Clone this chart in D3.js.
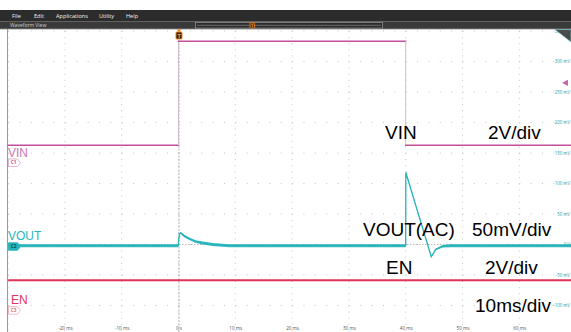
<!DOCTYPE html>
<html>
<head>
<meta charset="utf-8">
<script src="https://cdn.jsdelivr.net/npm/d3@7"></script>
<style>
  html, body { margin: 0; padding: 0; background: #fff; }
  svg { display: block; }
</style>
</head>
<body>
<svg id="scope" width="571" height="332"></svg>
<script>
// ---- Data -------------------------------------------------------------
// Time axis (ms) and graticule ticks
const timeTicks = [-30, -20, -10, 0, 10, 20, 30, 40, 50, 60, 70];
const timeLabels = ["", "-20 ms", "-10 ms", "0 s", "10 ms", "20 ms", "30 ms", "40 ms", "50 ms", "60 ms", ""];
// Vertical axis (VOUT channel, mV)
const voltTicks = [-150, -100, -50, 0, 50, 100, 150, 200, 250, 300, 350];
const voltLabels = ["", "-100 mV", "-50 mV", "0 V", "50 mV", "100 mV", "150 mV", "200 mV", "250 mV", "300 mV", "350 mV"];

// CH1 VIN (V), 2 V/div
const vinTime = [-30, 0, 0, 40, 40, 70];
const vinVolts = [1.15, 1.15, 7.97, 7.97, 1.15, 1.15];

// CH2 VOUT AC-coupled (mV), 50 mV/div
const voutTime  = [-30, -0.05, 0.15, 0.4, 1, 2, 3, 4, 6, 9, 40, 40.02, 44.5, 45.3, 46.5, 48, 70];
const voutMilli = [-2, -2, 17, 19, 14, 9, 5, 3, 0, -2, -2, 118, -20, -8, -3, -2, -2];
const voutNoise = [2.5, 2.5, 1.5, 1.5, 2, 2, 2, 2.5, 2.5, 2.5, 2.5, 0, 0, 1, 2, 2.5, 2.5];

// CH3 EN (V), 2 V/div
const enTime = [-30, 70];
const enVolts = [1.97, 1.97];

const menuItems = ["File", "Edit", "Applications", "Utility", "Help"];
const menuX = [12, 34, 56, 99, 126];

// ---- Layout -----------------------------------------------------------
const svg = d3.select("#scope");
const W = 571, H = 332;
const plotTop = 29;

const x = d3.scaleLinear().domain([-30, 70]).range([8.1, 576.1]);
const yV = d3.scaleLinear().domain([-150, 350]).range([336, 31]);
const div = yV(0) - yV(50);
// channel ground offsets, in divisions from the centre (0 V of CH2)
const vinOffset = 2.68, enOffset = -2.16;
const yVin = d3.scaleLinear().domain([0, 2]).range([yV(0) - vinOffset * div, yV(0) - (vinOffset + 1) * div]);
const yEn  = d3.scaleLinear().domain([0, 2]).range([yV(0) - enOffset * div, yV(0) - (enOffset + 1) * div]);

const COL_VIN = "#c2509c", COL_VOUT = "#22b4ba", COL_EN = "#de3356";

// ---- Title / menu bars -------------------------------------------------
svg.append("rect").attr("x", 0).attr("y", 10).attr("width", W).attr("height", 12).attr("fill", "#2c2c2c");
svg.append("rect").attr("x", 0).attr("y", 21.5).attr("width", W).attr("height", 7.5).attr("fill", "#3a3a3a");
svg.append("line").attr("x1", 0).attr("x2", W).attr("y1", 21.5).attr("y2", 21.5).attr("stroke", "#6e6e6e").attr("stroke-width", 0.8);
svg.append("line").attr("x1", 0).attr("x2", W).attr("y1", 29).attr("y2", 29).attr("stroke", "#8a8a8a").attr("stroke-width", 0.8);

svg.selectAll("text.menu").data(menuItems).join("text")
  .attr("class", "menu")
  .attr("x", (d, i) => menuX[i]).attr("y", 18.3)
  .attr("font-family", "Open Sans, sans-serif").attr("font-size", 5.6)
  .attr("fill", "#f2f2f2").text(d => d);

svg.append("text").attr("x", 10).attr("y", 27.4)
  .attr("font-family", "Open Sans, sans-serif").attr("font-size", 5)
  .attr("fill", "#cfcfcf").text("Waveform View");

// record overview box with trigger marker
const ov = svg.append("g");
ov.append("rect").attr("x", 195.5).attr("y", 22.5).attr("width", 187).attr("height", 5.5)
  .attr("fill", "#2a2a2a").attr("stroke", "#9a9a9a").attr("stroke-width", 0.7);
ov.append("line").attr("x1", 197).attr("x2", 381).attr("y1", 25.3).attr("y2", 25.3).attr("stroke", "#8c8c8c").attr("stroke-width", 0.7);
ov.append("rect").attr("x", 250).attr("y", 22.6).attr("width", 4.6).attr("height", 5.4).attr("rx", 0.6)
  .attr("fill", "#3a2a10").attr("stroke", "#f08a1c").attr("stroke-width", 0.8);
ov.append("text").attr("x", 252.3).attr("y", 27.2).attr("text-anchor", "middle")
  .attr("font-family", "DejaVu Sans, sans-serif").attr("font-size", 4.5).attr("font-weight", "bold")
  .attr("fill", "#f08a1c").text("T");

// ---- Graticule ----------------------------------------------------------
const grid = svg.append("g");
const minorX = (x(10) - x(0)) / 5, minorY = div / 5;
grid.selectAll("line.vg").data(timeTicks).join("line")
  .attr("class", "vg")
  .attr("x1", d => x(d)).attr("x2", d => x(d))
  .attr("y1", yV(350)).attr("y2", H)
  .attr("stroke", "#c4c4c4").attr("stroke-width", 1)
  .attr("stroke-dasharray", `1 ${minorY - 1}`);
grid.selectAll("line.hg").data(voltTicks).join("line")
  .attr("class", "hg")
  .attr("x1", x(-30)).attr("x2", W)
  .attr("y1", d => yV(d)).attr("y2", d => yV(d))
  .attr("stroke", "#c4c4c4").attr("stroke-width", 1)
  .attr("stroke-dasharray", `1 ${minorX - 1}`);

// left frame edge
svg.append("line").attr("x1", 7.5).attr("x2", 7.5).attr("y1", plotTop).attr("y2", H)
  .attr("stroke", "#9a9a9a").attr("stroke-width", 1);

// trigger position marker line (t = 0)
svg.append("line").attr("x1", x(0) + 0.5).attr("x2", x(0) + 0.5).attr("y1", 40).attr("y2", H)
  .attr("stroke", "#a8a8a8").attr("stroke-width", 0.9).attr("stroke-dasharray", "2 1.5");
// CH2 ground reference
svg.append("line").attr("x1", 20).attr("x2", W).attr("y1", yV(0)).attr("y2", yV(0))
  .attr("stroke", "#a8a8a8").attr("stroke-width", 0.8).attr("stroke-dasharray", "1.5 1.5");

// ---- Axes labels (D3 axes) -------------------------------------------
const xAxis = d3.axisBottom(x).tickValues(timeTicks)
  .tickFormat((d, i) => timeLabels[i]).tickSize(0);
svg.append("g").attr("transform", "translate(0,323.5)").call(xAxis)
  .call(g => g.select(".domain").remove())
  .call(g => g.selectAll("text").attr("font-family", "Open Sans, sans-serif")
    .attr("font-size", 4.6).attr("fill", "#555"));

const yAxis = d3.axisLeft(yV).tickValues(voltTicks)
  .tickFormat((d, i) => voltLabels[i]).tickSize(0).tickPadding(0);
svg.append("g").attr("transform", "translate(570,0)").call(yAxis)
  .call(g => g.select(".domain").remove())
  .call(g => g.selectAll("text").attr("font-family", "Open Sans, sans-serif")
    .attr("font-size", 4.4).attr("fill", "#2a9ea4"));

// top-right corner control
svg.append("path").attr("d", "M555,29.6 L571,29.6 L571,42 Z").attr("fill", "#4a4a4a")
  .attr("stroke", "#6fc7cc").attr("stroke-width", 0.6);

// CH1 offset marker on the right edge
svg.append("path").attr("d", `M562,${yV(265)} L568,${yV(260)} L568,${yV(270)} Z`).attr("fill", "#c46aa8");

// ---- Traces ---------------------------------------------------------
const traces = svg.append("g");

// Draw a trace as individual segments; fast vertical edges render faint
function segmentTrace(times, vals, yScale, color, edgeColor, width) {
  const segs = d3.pairs(d3.range(times.length));
  traces.append("g").selectAll("line").data(segs).join("line")
    .attr("x1", d => x(times[d[0]])).attr("x2", d => x(times[d[1]]))
    .attr("y1", d => yScale(vals[d[0]])).attr("y2", d => yScale(vals[d[1]]))
    .attr("stroke", d => times[d[0]] === times[d[1]] ? edgeColor : color)
    .attr("stroke-width", d => times[d[0]] === times[d[1]] ? 0.9 : width)
    .attr("stroke-linecap", "square");
}

// EN
traces.append("path")
  .attr("d", d3.line().x((d, i) => x(enTime[i])).y(d => yEn(d))(enVolts))
  .attr("fill", "none").attr("stroke", COL_EN).attr("stroke-width", 2);

// VOUT noise envelope and trace
traces.append("path")
  .attr("d", d3.area().x((d, i) => x(voutTime[i]))
    .y0((d, i) => yV(d - voutNoise[i])).y1((d, i) => yV(d + voutNoise[i]))(voutMilli))
  .attr("fill", COL_VOUT).attr("fill-opacity", 0.9);
traces.append("path")
  .attr("d", d3.line().x((d, i) => x(voutTime[i])).y(d => yV(d))(voutMilli))
  .attr("fill", "none").attr("stroke", COL_VOUT).attr("stroke-width", 1.3);

// VIN
segmentTrace(vinTime, vinVolts, yVin, COL_VIN, "#cdb5c6", 1.4);

// trigger marker
const tm = svg.append("g").attr("transform", `translate(${x(0) + 0.5},0)`);
tm.append("path").attr("d", "M-2.5,29.5 L2.5,29.5 L0,32 Z").attr("fill", "#f08a1c");
tm.append("rect").attr("x", -3).attr("y", 32).attr("width", 6).attr("height", 7).attr("rx", 0.8)
  .attr("fill", "#2a1a08").attr("stroke", "#f08a1c").attr("stroke-width", 1);
tm.append("text").attr("x", 0).attr("y", 37.8).attr("text-anchor", "middle")
  .attr("font-family", "DejaVu Sans, sans-serif").attr("font-size", 5.5).attr("font-weight", "bold")
  .attr("fill", "#f5a040").text("T");

// ---- Channel badges and names --------------------------------------
function badge(yc, stroke, fill, textFill, label) {
  const g = svg.append("g").attr("transform", `translate(8.5,${yc})`);
  g.append("path").attr("d", "M0,-3.8 L9,-3.8 L12,0 L9,3.8 L0,3.8 Z")
    .attr("fill", fill).attr("stroke", stroke).attr("stroke-width", 0.8);
  g.append("text").attr("x", 5).attr("y", 1.7).attr("text-anchor", "middle")
    .attr("font-family", "Open Sans, sans-serif").attr("font-size", 4.6).attr("font-weight", "bold")
    .attr("fill", textFill).text(label);
}
badge(yVin(0), "#d9a2c8", "#fff", "#c2509c", "C1");
badge(yV(0) + 2, COL_VOUT, COL_VOUT, "#0e4d52", "C2");
badge(yEn(0), "#f2a6b6", "#fff", "#e26a84", "C3");

const nameFont = "Liberation Sans, Arial, sans-serif";
svg.append("text").attr("x", 8).attr("y", 157).attr("font-family", nameFont).attr("font-size", 12)
  .attr("fill", "#c978ad").text("VIN");
svg.append("text").attr("x", 8).attr("y", 239.5).attr("font-family", nameFont).attr("font-size", 12)
  .attr("fill", "#25b6bf").text("VOUT");
svg.append("text").attr("x", 11).attr("y", 304).attr("font-family", nameFont).attr("font-size", 12)
  .attr("fill", "#e0385c").text("EN");

// ---- Annotations ---------------------------------------------------
const notes = [
  { t: "VIN", x: 385, y: 139 },
  { t: "2V/div", x: 488, y: 139 },
  { t: "VOUT(AC)", x: 363, y: 236 },
  { t: "50mV/div", x: 472, y: 236 },
  { t: "EN", x: 386, y: 274 },
  { t: "2V/div", x: 485, y: 274 },
  { t: "10ms/div", x: 475, y: 312 }
];
svg.selectAll("text.note").data(notes).join("text")
  .attr("class", "note")
  .attr("x", d => d.x).attr("y", d => d.y)
  .attr("font-family", nameFont).attr("font-size", 19).attr("fill", "#000")
  .text(d => d.t);
</script>
</body>
</html>
